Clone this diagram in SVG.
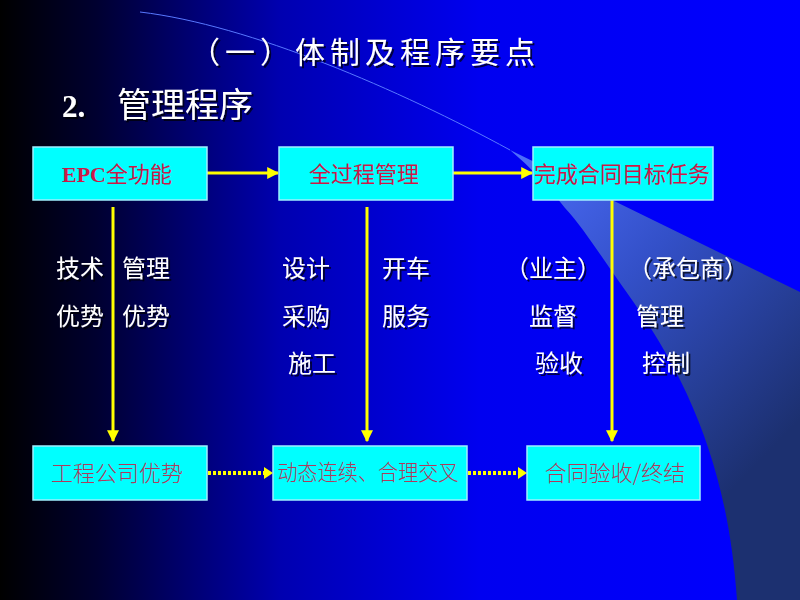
<svg xmlns="http://www.w3.org/2000/svg" width="800" height="600" viewBox="0 0 800 600">
<defs>
<linearGradient id="bg" x1="0" y1="0" x2="1" y2="0">
<stop offset="0" stop-color="#000000"/>
<stop offset="0.12" stop-color="#000030"/>
<stop offset="0.35" stop-color="#0000b0"/>
<stop offset="0.6" stop-color="#0000f0"/>
<stop offset="1" stop-color="#0000ff"/>
</linearGradient>
<linearGradient id="sw" x1="500" y1="150" x2="790" y2="430" gradientUnits="userSpaceOnUse">
<stop offset="0" stop-color="#5070ff"/>
<stop offset="0.45" stop-color="#3350c8"/>
<stop offset="1" stop-color="#1c3070"/>
</linearGradient>
<marker id="ah" viewBox="0 0 10 10" refX="9" refY="5" markerWidth="4" markerHeight="4" orient="auto" markerUnits="strokeWidth">
<path d="M0,0 L10,5 L0,10 Z" fill="#ffff00"/>
</marker>
<filter id="sh" x="-10%" y="-10%" width="130%" height="130%">
<feDropShadow dx="2" dy="2" stdDeviation="0.6" flood-color="#000000" flood-opacity="0.7"/>
</filter>
</defs>
<style>
.box{fill:#00ffff;stroke:#a0f0ff;stroke-width:1.5}
.lbl{font-family:"Noto Sans CJK SC","Liberation Sans",sans-serif;font-size:22px;fill:#cc1848;text-anchor:middle}
.lbl2{font-family:"Noto Sans CJK SC","Liberation Sans",sans-serif;font-weight:300;font-size:22px;fill:#b03a5c;text-anchor:middle}
.w{font-family:"Noto Sans CJK SC","Liberation Sans",sans-serif;font-size:24px;fill:#ffffff}
.conn{stroke:#ffff00;stroke-width:3;fill:none}
.dot{stroke:#ffff00;stroke-width:4;stroke-dasharray:3 2;fill:none}
</style>
<rect width="800" height="600" fill="url(#bg)"/>
<path d="M510,150 L800,292 L800,600 L737,600 C728,470 690,380 625,290 C600,255 585,230 565,208 Q540,175 510,150 Z" fill="url(#sw)"/>
<path d="M140,12 C250,25 400,90 510,150" stroke="#5878ff" stroke-width="1" fill="none"/>

<text x="190" y="63" font-family="Noto Sans CJK SC,Liberation Sans,sans-serif" font-size="30" fill="#ffffff" textLength="345" lengthAdjust="spacing" filter="url(#sh)">（一）体制及程序要点</text>
<g filter="url(#sh)">
<text x="62" y="117" font-family="Liberation Serif,serif" font-weight="bold" font-size="31" fill="#ffffff">2.</text>
<text x="117" y="117" font-family="Noto Sans CJK SC,Liberation Sans,sans-serif" font-size="34" fill="#ffffff">管理程序</text>
</g>

<g id="connectors">
<line class="conn" x1="207" y1="173" x2="278" y2="173" marker-end="url(#ah)"/>
<line class="conn" x1="453" y1="173" x2="532" y2="173" marker-end="url(#ah)"/>
<line class="conn" x1="113" y1="207" x2="113" y2="441" marker-end="url(#ah)"/>
<line class="conn" x1="367" y1="207" x2="367" y2="441" marker-end="url(#ah)"/>
<line class="conn" x1="612" y1="200" x2="612" y2="441" marker-end="url(#ah)"/>
<line class="dot" x1="208" y1="473" x2="270" y2="473"/>
<path d="M264,467 L273,473 L264,479 Z" fill="#ffff00"/>
<line class="dot" x1="468" y1="473" x2="524" y2="473"/>
<path d="M518,467 L527,473 L518,479 Z" fill="#ffff00"/>
</g>

<g id="n1"><rect class="box" x="33" y="147" width="174" height="53"/>
<text x="117" y="182" class="lbl"><tspan font-family="Liberation Serif,serif" font-weight="bold">EPC</tspan>全功能</text></g>
<g id="n2"><rect class="box" x="279" y="147" width="174" height="53"/>
<text x="364" y="182" class="lbl">全过程管理</text></g>
<g id="n3"><rect class="box" x="533" y="147" width="180" height="53"/>
<text x="622" y="182" class="lbl" textLength="176" lengthAdjust="spacingAndGlyphs">完成合同目标任务</text></g>
<g id="n4"><rect class="box" x="33" y="446" width="174" height="54"/>
<text x="117" y="481" class="lbl2">工程公司优势</text></g>
<g id="n5"><rect class="box" x="273" y="446" width="194" height="54"/>
<text x="368" y="480" class="lbl2" font-size="20" textLength="181" lengthAdjust="spacingAndGlyphs">动态连续、合理交叉</text></g>
<g id="n6"><rect class="box" x="527" y="446" width="173" height="54"/>
<text x="615" y="481" class="lbl2">合同验收/终结</text></g>

<g id="notes" filter="url(#sh)">
<text class="w" x="56" y="277">技术</text>
<text class="w" x="122" y="277">管理</text>
<text class="w" x="56" y="325">优势</text>
<text class="w" x="122" y="325">优势</text>
<text class="w" x="282" y="277">设计</text>
<text class="w" x="282" y="325">采购</text>
<text class="w" x="288" y="372">施工</text>
<text class="w" x="382" y="277">开车</text>
<text class="w" x="382" y="325">服务</text>
<text class="w" x="505" y="277">（业主）</text>
<text class="w" x="529" y="325">监督</text>
<text class="w" x="535" y="372">验收</text>
<text class="w" x="628" y="277">（承包商）</text>
<text class="w" x="636" y="325">管理</text>
<text class="w" x="642" y="372">控制</text>
</g>
</svg>
